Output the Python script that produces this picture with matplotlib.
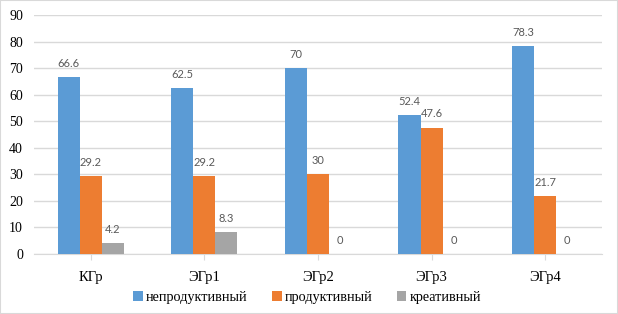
import numpy as np
import matplotlib.pyplot as plt

categories = ["КГр", "ЭГр1", "ЭГр2", "ЭГр3", "ЭГр4"]
series_names = ["непродуктивный", "продуктивный", "креативный"]
nonprod = [66.6, 62.5, 70, 52.4, 78.3]
prod = [29.2, 29.2, 30, 47.6, 21.7]
creative = [4.2, 8.3, 0, 0, 0]
colors = ["#5B9BD5", "#ED7D31", "#A5A5A5"]

fig = plt.figure(figsize=(6.18, 3.14), dpi=100)
ax = fig.add_axes([0.055, 0.191, 0.919, 0.761])

x = np.arange(len(categories))
w = 0.194
serif = "Liberation Serif"

for k, vals in enumerate([nonprod, prod, creative]):
    bars = ax.bar(x + (k - 1) * w, vals, w, color=colors[k], label=series_names[k], zorder=3)
    for b, v in zip(bars, vals):
        ax.annotate(f"{v:g}", (b.get_x() + b.get_width() / 2, v),
                    xytext=(0, 6), textcoords="offset points",
                    ha="center", va="bottom", fontsize=8, color="#595959",
                    family="Lato")

ax.set_ylim(0, 90)
ax.set_yticks(range(0, 91, 10))
ax.set_xlim(-0.5, len(categories) - 0.5)
ax.set_xticks(x)
ax.set_xticklabels(categories, family=serif, fontsize=10.5)
for t in ax.get_yticklabels():
    t.set_family(serif)
    t.set_fontsize(10)
ax.tick_params(axis="y", length=0, pad=8)
ax.tick_params(axis="x", length=4, color="#D9D9D9", pad=8)
ax.grid(axis="y", color="#D9D9D9", linewidth=1, zorder=0)
for s in ["left", "right", "top"]:
    ax.spines[s].set_visible(False)
ax.spines["bottom"].set_color("#D9D9D9")

fig.legend(loc="center", bbox_to_anchor=(0.497, 0.053), ncol=3, frameon=False,
           prop={"family": serif, "size": 10.3}, handlelength=0.65, handleheight=0.65,
           columnspacing=1.75, handletextpad=0.2)

fig.patches.append(plt.Rectangle((0, 0), 1, 1, transform=fig.transFigure,
                                 fill=False, edgecolor="#D9D9D9", linewidth=1.5))
fig.savefig("out.png", dpi=100)
